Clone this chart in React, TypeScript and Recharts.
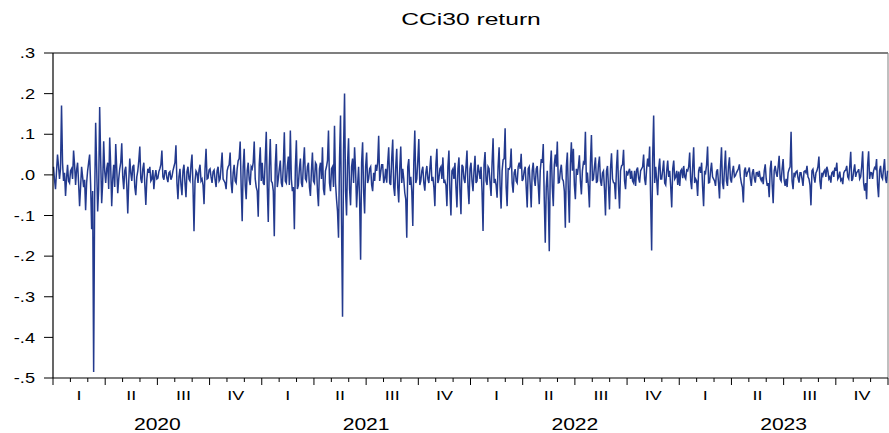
import { LineChart, Line, XAxis, YAxis, ReferenceLine } from 'recharts';

// CCi30 daily return (in thousandths), ~4 points per week
const years = [2020, 2021, 2022, 2023];
const yearLabels = ['2020', '2021', '2022', '2023'];
const quarterLabels = ['I', 'II', 'III', 'IV'];
const yTicks = [0.3, 0.2, 0.1, 0, -0.1, -0.2, -0.3, -0.4, -0.5];
const yTickLabels = ['.3', '.2', '.1', '.0', '-.1', '-.2', '-.3', '-.4', '-.5'];

const ret2020 = [
  20, -12, -35, 8, 50, 22, -10, 15, 171, 30, -15, 5, -52, -8, 25, -15, -20, 10, 15, -10,
  60, 25, -25, 12, 30, -20, -77, -30, 20, -5, -30, -12, -87, -20, 10, 30, 50, -25, -134, -40,
  -485, -60, 128, 20, -90, -35, 167, 40, -70, -20, 83, 10, -20, 15, 30, -35, 92, 20, -77, -10,
  25, -30, 76, 15, -45, -10, 15, 30, 78, -5, -35, 10, 20, -25, -95, -15, 40, 5, -15, 20,
  25, -30, -50, -5, 10, 35, 70, -10, -20, 15, 30, -25, -74, -10, 15, 5, 20, -15, -10, 12,
  -35, -5, 12, -10, -8, 8, 15, 25, 60, -5, -12, 10, 10, -8, -18, 5, 8, -12, -5, 10,
  20, 30, 73, -20, -60, -5, 15, -25, -50, 10, 25, -20, -55, 8, 20, -10, -15, 25, 50, -30,
  -139, -15, 10, 5, -20, 12, 25, -15, -10, -25, -72, 15, 64, -10, -8, 12, 15, -5, -20, 8,
  12, -12, -30, 10, 20, -15, -10, 20, 55, -10, -15, -20, -35, 10, 20, 25, 55, -20, -45, 5,
  25, -15, -20, 15, 35, 40, 82, -30, -114, 20, 64, -25, -60, 10, 30, -12, -25, 20, 15, 30,
  82, -10, -30, -40, -103, 25, 68, -15,
];

const ret2021 = [
  30, -20, -25, 40, 106, -30, -116, 20, 88, -15, -20, -40, -151, 25, 76, -30, -10, 15, 35, -20,
  -30, 25, 105, -15, -20, 20, 45, -25, 109, -10, -40, -30, -134, 20, 85, -35, -25, 15, 40, -20,
  -30, 30, 68, -10, -15, 20, 30, -30, -52, 10, 55, -15, -20, 30, 25, -40, -77, 15, 30, -10,
  68, -35, -50, 10, 20, 35, 109, -20, -40, 15, 20, -30, 121, -20, -60, -90, -155, 40, 146, -120,
  -349, 60, 200, -40, -100, 30, 90, -35, -75, 20, 40, -20, 68, 10, -80, -25, 20, -60, -209, 30,
  80, -40, -95, 20, 55, -20, -10, 15, 20, -25, -40, 5, -15, 25, 10, 30, 96, -15, 5, 25,
  25, -20, -10, 15, -19, 30, 68, -20, -25, 40, 87, -30, -52, 20, 64, -30, -68, 15, 70, -20,
  15, -10, -44, -60, -155, 20, 39, -25, -5, -40, -126, 30, 109, -20, -10, 35, 88, -25, -15, 10,
  20, -20, -39, 5, 22, -10, -20, 15, 47, -15, -5, -30, -77, 25, 64, -20, -10, 15, 20, -10,
  43, -20, -15, -25, -77, 20, 60, -40, -100, 10, 15, -10, 30, -30, -80, 15, 43, -40, -97, 25,
  20, -10, -20, 20, 60, -30, -72, 15,
];

const ret2022 = [
  30, -15, -40, 10, 47, -20, -15, 25, 10, -10, 20, -40, -138, 25, 56, -15, -25, 20, 15, -20,
  -52, 30, 90, -20, -10, -25, -56, 20, 68, -30, -83, 10, 37, 40, 115, -30, -77, 15, 14, 20,
  65, -20, -44, 5, 14, -15, -20, 20, 30, 15, 52, -15, -10, 10, 20, -30, -80, 15, 20, -25,
  -80, 10, 30, -10, -27, 15, 22, -25, -72, 10, 39, 30, 76, -60, -167, -30, 10, -60, -188, 20,
  60, -30, -77, 25, 50, 20, 82, -20, -19, 10, 25, -10, -15, -40, -130, 20, 55, -40, -118, 25,
  80, 10, 64, -25, -60, 15, 0, 20, 48, -15, -48, 10, 30, 25, 106, -20, 6, -30, -80, 30,
  98, -15, -10, 20, 43, -20, -15, 25, 45, -15, -27, 5, 10, -35, -100, 10, 22, -30, -85, 15,
  53, -10, -19, -20, -60, 20, 62, -30, -83, 10, 22, 25, 62, -15, -35, 10, -2, 8, 15, -10,
  10, -15, -20, 10, -27, 12, 18, -8, -19, 10, 15, 20, 50, -10, -25, 15, 40, 20, 70, -60,
  -186, 40, 146, -20, 20, -10, -50, 15, 40, -10, -10, 12, 35, -20, -25, 10, 35, -5, 10, -30,
  -80, 15, 35, -10, -5, 10, -25, 8,
];

const ret2023 = [
  -27, 10, 14, -8, 22, -5, -10, 12, 10, 20, 55, -15, -35, 20, 68, -20, -10, -15, -52, 10,
  20, 5, 30, -30, -77, 10, 5, 25, 70, -20, -19, 10, 30, -5, -10, -15, -27, 8, 14, -20,
  -58, 20, 68, -20, -35, 15, 60, -15, -27, 20, 43, -10, -19, 8, 22, -5, -2, 5, 10, 15,
  26, -5, -20, -30, -68, 10, 18, -5, 5, 10, 18, -10, -27, 5, 14, -8, -19, 5, 6, -5,
  10, -8, -14, -5, -23, 10, 26, -10, -27, -20, -55, 15, 35, -25, -70, 10, 22, 5, -5, 20,
  47, -10, -15, 15, 39, -12, -27, -10, -30, 5, 14, 20, 106, -15, -35, 5, -2, 8, 10, -8,
  -19, 5, 5, -10, -27, 8, 10, 5, 22, -5, -10, -25, -75, 10, 14, -5, -19, 5, 10, 20,
  45, -15, -35, 5, -2, 8, 12, -5, 20, 10, -10, -5, -19, 5, 8, -5, 18, 10, 30, -10,
  -5, 8, -14, -10, -23, 5, 10, 12, 22, -5, -10, 20, 57, -15, -10, 10, 26, -5, 6, 8,
  14, -10, -5, 20, 58, -20, -39, -20, -60, 25, 58, -10, 6, 5, -10, 10, 18, 15, 39, -25,
  -55, 10, 22, -5, -10, 15, 39, -10, -20, 10,
];

const chartData = [ret2020, ret2021, ret2022, ret2023].flatMap((arr, k) =>
  arr.map((v, i) => ({ t: years[k] + (i + 0.5) / arr.length, r: v / 1000 }))
);

// month boundaries (tick marks) + quarter centres (labels)
const monthTicks = Array.from({ length: 49 }, (_, m) => 2020 + m / 12);
const quarterMids = Array.from({ length: 16 }, (_, q) => 2020 + (3 * q + 1.5) / 12);
const xTicks = [...monthTicks, ...quarterMids].sort((a, b) => a - b);

const FONT = '"Liberation Sans", Arial, sans-serif';
const LINE_COLOR = '#233a8e';

function XTick(props: any) {
  const { x, y, payload } = props;
  const h = Math.round((payload.value - 2020) * 24);
  if (h % 2 === 1) {
    const q = (h - 3) / 6;
    return (
      <text
        transform={`translate(${x},${y + 18}) scale(1.5,1)`}
        textAnchor="middle"
        dominantBaseline="central"
        fontSize={12}
        fontFamily={FONT}
        fill="#000"
      >
        {quarterLabels[q % 4]}
      </text>
    );
  }
  const m = h / 2;
  const major = m % 3 === 0;
  return (
    <g>
      <line x1={x} x2={x} y1={y} y2={y + (major ? 7 : 4)} stroke="#000" strokeWidth={1} />
      {m % 12 === 6 && (
        <text
          transform={`translate(${x},${y + 46}) scale(1.32,1)`}
          textAnchor="middle"
          dominantBaseline="central"
          fontSize={16}
          fontFamily={FONT}
          fill="#000"
        >
          {yearLabels[(m - 6) / 12]}
        </text>
      )}
    </g>
  );
}

function YTick(props: any) {
  const { x, y, payload } = props;
  const idx = yTicks.findIndex((v) => Math.abs(v - payload.value) < 1e-9);
  return (
    <text
      transform={`translate(${x},${y}) scale(1.3,1)`}
      textAnchor="end"
      dominantBaseline="central"
      fontSize={14}
      fontFamily={FONT}
      fill="#000"
    >
      {yTickLabels[idx]}
    </text>
  );
}

export default function App() {
  return (
    <div style={{ position: 'absolute', left: 0, top: 0, width: 889, height: 433, background: '#fff' }}>
      <svg width={889} height={40} style={{ position: 'absolute', left: 0, top: 0 }}>
        <text
          transform="translate(471,19) scale(1.45,1)"
          textAnchor="middle"
          dominantBaseline="central"
          fontSize={17}
          fontFamily={FONT}
          fill="#000"
        >
          CCi30 return
        </text>
      </svg>
      <LineChart
        width={889}
        height={433}
        data={chartData}
        margin={{ top: 53, right: 1, left: 0, bottom: 0 }}
      >
        <XAxis
          dataKey="t"
          type="number"
          domain={[2020, 2024]}
          ticks={xTicks}
          interval={0}
          height={55}
          tickLine={false}
          tickSize={0}
          tickMargin={0}
          axisLine={{ stroke: '#000', strokeWidth: 1.2 }}
          tick={<XTick />}
        />
        <YAxis
          type="number"
          domain={[-0.5, 0.3]}
          ticks={yTicks}
          interval={0}
          width={53}
          tickSize={9}
          tickMargin={9}
          axisLine={{ stroke: '#000', strokeWidth: 1.2 }}
          tickLine={{ stroke: '#000' }}
          tick={<YTick />}
        />
        <ReferenceLine y={0.3} stroke="#000" strokeWidth={1.2} />
        <ReferenceLine x={2024} stroke="#808080" strokeWidth={1} />
        <Line
          type="linear"
          dataKey="r"
          stroke={LINE_COLOR}
          strokeWidth={1.5}
          strokeLinejoin="miter"
          dot={false}
          isAnimationActive={false}
        />
      </LineChart>
    </div>
  );
}
